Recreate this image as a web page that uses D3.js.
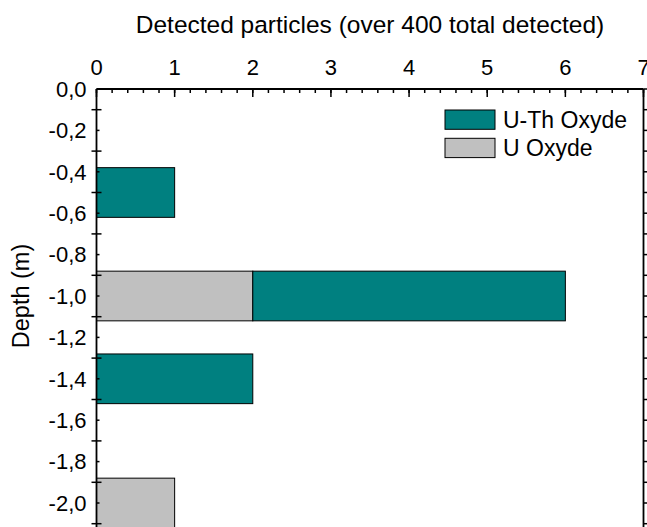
<!DOCTYPE html>
<html>
<head>
<meta charset="utf-8">
<script src="https://d3js.org/d3.v7.min.js"></script>
<style>
  body { margin: 0; background: #fff; }
  svg text { font-family: "Liberation Sans", Arial, sans-serif; fill: #000; }
</style>
</head>
<body>
<script>

    // data
    let depths = [-0.5, -1.0, -1.4, -2.0];
    let uOxyde = [0, 2, 0, 1];
    let uThOxyde = [1, 4, 2, 0];
    let seriesKeys = ["U Oxyde", "U-Th Oxyde"];
    let legendKeys = ["U-Th Oxyde", "U Oxyde"];
    let xTicks = [0, 1, 2, 3, 4, 5, 6, 7];
    let yLabels = [0, -0.2, -0.4, -0.6, -0.8, -1.0, -1.2, -1.4, -1.6, -1.8, -2.0];

    let width = 647, height = 527;
    let margin = {top: 89, left: 96.5, right: 3.5};
    let barHeight = 0.24;

    let colors = {"U Oxyde": "#c0c0c0", "U-Th Oxyde": "#008080"};

    let data = depths.map((d, i) => ({depth: d, "U Oxyde": uOxyde[i], "U-Th Oxyde": uThOxyde[i]}));

    let svg = d3.select("body").append("svg")
        .attr("width", width)
        .attr("height", height);

    let x = d3.scaleLinear()
        .domain([0, 7])
        .range([margin.left, width - margin.right]);

    let y = d3.scaleLinear()
        .domain([0, -2.2])
        .range([margin.top, margin.top + 2.2 * 207]);

    let series = d3.stack().keys(seriesKeys)(data);

    // bars
    svg.append("g")
        .selectAll("g")
        .data(series)
        .join("g")
            .attr("fill", d => colors[d.key])
        .selectAll("rect")
        .data(d => d.filter(v => v[1] > v[0]))
        .join("rect")
            .attr("x", d => x(d[0]))
            .attr("width", d => x(d[1]) - x(d[0]))
            .attr("y", d => y(d.data.depth + barHeight / 2))
            .attr("height", d => y(d.data.depth - barHeight / 2) - y(d.data.depth + barHeight / 2))
            .attr("stroke", "#000")
            .attr("stroke-width", 1);

    // top axis
    let xMinor = d3.range(0, 7.001, 0.2);
    let topAxis = svg.append("g").attr("transform", `translate(0,${margin.top})`);
    topAxis.selectAll("line.minor")
        .data(xMinor)
        .join("line")
            .attr("x1", d => x(d)).attr("x2", d => x(d))
            .attr("y1", 0).attr("y2", 4)
            .attr("stroke", "#000").attr("stroke-width", 1.5);
    topAxis.selectAll("line.major")
        .data(xTicks)
        .join("line")
            .attr("x1", d => x(d)).attr("x2", d => x(d))
            .attr("y1", 0).attr("y2", 8)
            .attr("stroke", "#000").attr("stroke-width", 1.5);
    topAxis.selectAll("text")
        .data(xTicks)
        .join("text")
            .attr("x", d => x(d))
            .attr("y", -14)
            .attr("text-anchor", "middle")
            .attr("font-size", 22)
            .text(d => d);

    // left axis: labels at even tenths, crossing ticks at odd tenths
    let yOdd = d3.range(1, 22, 2).map(k => -k / 10);
    let leftAxis = svg.append("g").attr("transform", `translate(${margin.left},0)`);
    leftAxis.selectAll("line.major")
        .data(yOdd)
        .join("line")
            .attr("x1", -5).attr("x2", 5)
            .attr("y1", d => y(d)).attr("y2", d => y(d))
            .attr("stroke", "#000").attr("stroke-width", 1.5);
    leftAxis.selectAll("line.minor")
        .data(yLabels)
        .join("line")
            .attr("x1", 0).attr("x2", 3)
            .attr("y1", d => y(d)).attr("y2", d => y(d))
            .attr("stroke", "#000").attr("stroke-width", 1.5);
    leftAxis.selectAll("text")
        .data(yLabels)
        .join("text")
            .attr("x", -10)
            .attr("y", d => y(d))
            .attr("dy", "0.35em")
            .attr("text-anchor", "end")
            .attr("font-size", 22)
            .text(d => d3.format(".1f")(d).replace("−", "-").replace(".", ","));

    // right axis ticks
    let yTenths = d3.range(0, 23).map(k => -k / 10);
    svg.append("g")
        .selectAll("line")
        .data(yTenths)
        .join("line")
            .attr("x1", x(7)).attr("x2", x(7) + 4)
            .attr("y1", d => y(d)).attr("y2", d => y(d))
            .attr("stroke", "#000").attr("stroke-width", 1.5);

    // frame lines
    svg.append("line")
        .attr("x1", x(0)).attr("x2", x(7))
        .attr("y1", y(0)).attr("y2", y(0))
        .attr("stroke", "#000").attr("stroke-width", 1.8);
    svg.append("line")
        .attr("x1", x(0)).attr("x2", x(0))
        .attr("y1", y(0)).attr("y2", y(-2.2))
        .attr("stroke", "#000").attr("stroke-width", 1.8);
    svg.append("line")
        .attr("x1", x(7)).attr("x2", x(7))
        .attr("y1", y(0)).attr("y2", y(-2.2))
        .attr("stroke", "#000").attr("stroke-width", 1.8);

    // titles
    svg.append("text")
        .attr("x", (x(0) + x(7)) / 2)
        .attr("y", 33)
        .attr("text-anchor", "middle")
        .attr("font-size", 24.5)
        .text("Detected particles (over 400 total detected)");

    svg.append("text")
        .attr("transform", `translate(29,${y(-1.0)}) rotate(-90)`)
        .attr("text-anchor", "middle")
        .attr("font-size", 23.5)
        .text("Depth (m)");

    // legend
    let legend = svg.append("g").attr("transform", "translate(445,110)");
    let items = legend.selectAll("g")
        .data(legendKeys)
        .join("g")
            .attr("transform", (d, i) => `translate(0,${i * 28.3})`);
    items.append("rect")
        .attr("width", 50).attr("height", 19.3)
        .attr("fill", d => colors[d])
        .attr("stroke", "#000").attr("stroke-width", 1);
    items.append("text")
        .attr("x", 58)
        .attr("y", 17.5)
        .attr("font-size", 23)
        .text(d => d);

</script>
</body>
</html>
